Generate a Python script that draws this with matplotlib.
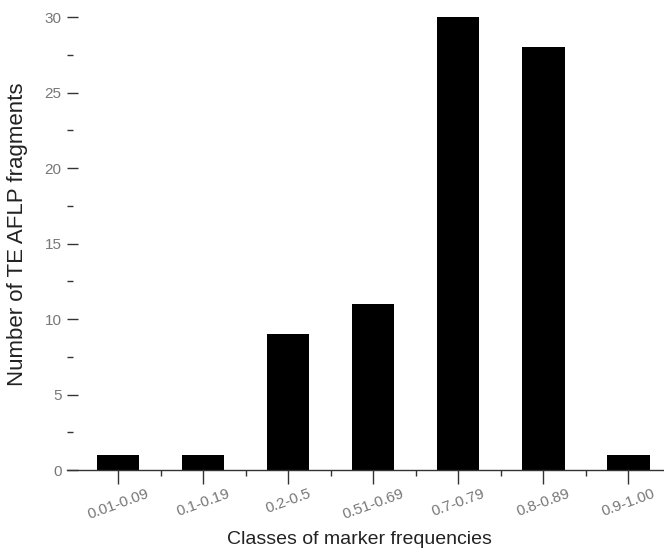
import matplotlib
matplotlib.use("Agg")
import matplotlib.pyplot as plt
from matplotlib.ticker import MultipleLocator

plt.rcParams["font.family"] = ["Liberation Sans", "DejaVu Sans"]

# classes of marker frequencies (labels partly illegible in the scan)
classes = ["0.01-0.09", "0.1-0.19", "0.2-0.5", "0.51-0.69", "0.7-0.79", "0.8-0.89", "0.9-1.00"]
counts = [1, 1, 9, 11, 30, 28, 1]

fig = plt.figure(figsize=(6.64, 5.53), dpi=100)
ax = fig.add_axes([0.101, 0.150, 0.899, 0.819])

x = range(len(classes))
ax.bar(x, counts, width=0.5, color="black", edgecolor="none")

ax.set_xlim(-0.6, 6.42)
ax.set_ylim(0, 30)

for side in ("top", "right", "left"):
    ax.spines[side].set_visible(False)
ax.spines["bottom"].set_color("#333333")
ax.spines["bottom"].set_linewidth(1.0)

ax.set_xticks(list(x))
ax.set_xticklabels(classes, rotation=20, ha="center", fontsize=11, color="#777777")
ax.set_xticks([i + 0.5 for i in range(len(classes) - 1)], minor=True)
ax.tick_params(axis="x", which="major", direction="out", length=10, width=1, color="#333333", pad=2)
ax.tick_params(axis="x", which="minor", direction="out", length=4, width=1, color="#333333")

ax.yaxis.set_major_locator(MultipleLocator(5))
ax.yaxis.set_minor_locator(MultipleLocator(2.5))
ax.tick_params(axis="y", which="major", direction="in", length=8, width=1, color="#333333",
               labelsize=11, labelcolor="#777777", pad=4)
ax.tick_params(axis="y", which="minor", direction="in", length=4, width=1, color="#333333")

ax.set_xlabel("Classes of marker frequencies", fontsize=14, color="#222222")
ax.set_ylabel("Number of TE AFLP fragments", fontsize=16, color="#222222")
ax.xaxis.set_label_coords(0.49, -0.135)
ax.yaxis.set_label_coords(-0.066, 0.52)

fig.savefig("out.png", dpi=100)
